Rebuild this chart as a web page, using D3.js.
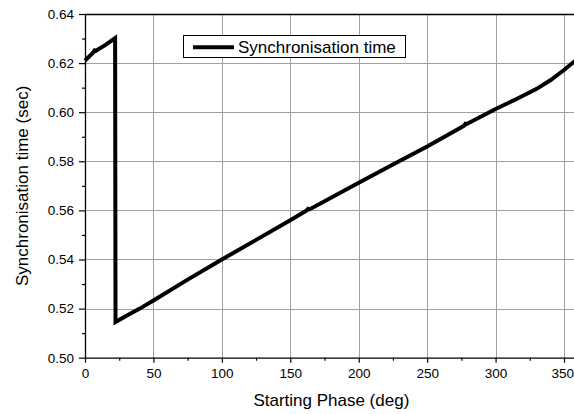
<!DOCTYPE html>
<html>
<head>
<meta charset="utf-8">
<script src="https://cdn.jsdelivr.net/npm/d3@7"></script>
<style>
  html, body { margin: 0; padding: 0; background: #fff; }
  svg { display: block; }
  text { font-family: "Liberation Sans", Arial, sans-serif; fill: #000; }
</style>
</head>
<body>
<svg id="chart" width="574" height="414"></svg>
<script>
// ---- data ----
const phase = [0, 6, 7, 8, 15, 22, 22.3, 30, 40, 50, 75, 100, 125, 150, 162, 163, 164, 200, 225, 250, 277, 278, 279, 300, 315, 330, 340, 350, 360];
const syncTime = [0.621, 0.6243, 0.6252, 0.6250, 0.6274, 0.6302, 0.5145, 0.5170, 0.5200, 0.5233, 0.5318, 0.5400, 0.5480, 0.5560, 0.5600, 0.5606, 0.5604, 0.5713, 0.5787, 0.5860, 0.5945, 0.5953, 0.5952, 0.6013, 0.6053, 0.6095, 0.6130, 0.6172, 0.6218];
const xTicks = [0, 50, 100, 150, 200, 250, 300, 350];
const xMinorTicks = [25, 75, 125, 175, 225, 275, 325];
const yTicks = [0.50, 0.52, 0.54, 0.56, 0.58, 0.60, 0.62, 0.64];
const yMinorTicks = [0.51, 0.53, 0.55, 0.57, 0.59, 0.61, 0.63];
const seriesName = "Synchronisation time";
const xTitle = "Starting Phase (deg)";
const yTitle = "Synchronisation time (sec)";

(function () {
// ---- layout ----
const pL = 85, pT = 14, pB = 357.7, pR = 577.7;
const svg = d3.select("#chart");
const x = d3.scaleLinear().domain([0, 360]).range([pL, pR]);
const y = d3.scaleLinear().domain([0.50, 0.64]).range([pB, pT]);

// grid
const grid = svg.append("g").attr("shape-rendering", "crispEdges");
grid.selectAll("line.vx").data(xTicks.filter(d => d > 0)).enter().append("line")
  .attr("x1", d => Math.round(x(d)) + 0.5).attr("x2", d => Math.round(x(d)) + 0.5)
  .attr("y1", pT).attr("y2", pB)
  .attr("stroke", "#a0a0a0").attr("stroke-width", 1);
grid.selectAll("line.hy").data(yTicks.filter(d => d > 0.50 && d < 0.64)).enter().append("line")
  .attr("y1", d => Math.round(y(d)) + 0.5).attr("y2", d => Math.round(y(d)) + 0.5)
  .attr("x1", pL).attr("x2", pR)
  .attr("stroke", "#a0a0a0").attr("stroke-width", 1);

// top border
svg.append("line")
  .attr("x1", pL).attr("x2", pR)
  .attr("y1", Math.round(y(0.64)) + 0.5).attr("y2", Math.round(y(0.64)) + 0.5)
  .attr("stroke", "#000").attr("stroke-width", 1.3);

// axes
const fmtY = d3.format(".2f");
const xAxis = svg.append("g").attr("transform", `translate(0,${pB})`)
  .call(d3.axisBottom(x).tickValues(xTicks).tickSize(5).tickSizeOuter(0).tickPadding(5).tickFormat(d3.format("d")));
svg.append("g").attr("transform", `translate(0,${pB})`)
  .call(d3.axisBottom(x).tickValues(xMinorTicks).tickSize(3).tickSizeOuter(0).tickFormat(""))
  .select(".domain").remove();
const yAxis = svg.append("g").attr("transform", `translate(${pL},0)`)
  .call(d3.axisLeft(y).tickValues(yTicks).tickSize(6).tickSizeOuter(0).tickPadding(5).tickFormat(fmtY));
svg.append("g").attr("transform", `translate(${pL},0)`)
  .call(d3.axisLeft(y).tickValues(yMinorTicks).tickSize(3).tickSizeOuter(0).tickFormat(""))
  .select(".domain").remove();

svg.selectAll(".tick text").style("font-size", "13.5px").style("font-family", "'Liberation Sans', Arial, sans-serif");
svg.selectAll(".domain").attr("stroke-width", 1.3);
svg.selectAll(".tick line").attr("stroke-width", 1.2);
xAxis.selectAll(".tick text").attr("dy", "0.71em").attr("y", 11);
// keep the last label inside the window
xAxis.selectAll(".tick").filter(d => d === 350).select("text")
  .attr("text-anchor", "end").attr("x", 9.5);

// titles
svg.append("text").attr("x", (pL + pR) / 2).attr("y", 406)
  .attr("text-anchor", "middle").style("font-size", "17px").text(xTitle);
svg.append("text").attr("transform", `translate(28,${(pT + pB) / 2}) rotate(-90)`)
  .attr("text-anchor", "middle").style("font-size", "17px").text(yTitle);

// series
const pts = phase.map((p, i) => [p, syncTime[i]]);
svg.append("path").datum(pts)
  .attr("fill", "none").attr("stroke", "#000").attr("stroke-width", 4)
  .attr("stroke-linejoin", "miter").attr("stroke-miterlimit", 10)
  .attr("d", d3.line().x(d => x(d[0])).y(d => y(d[1])));

// legend
const lg = svg.append("g");
lg.append("rect").attr("x", 183.5).attr("y", 35.5).attr("width", 222).attr("height", 22)
  .attr("fill", "#fff").attr("stroke", "#000").attr("stroke-width", 1);
lg.append("line").attr("x1", 193).attr("x2", 234).attr("y1", 47.3).attr("y2", 47.3)
  .attr("stroke", "#000").attr("stroke-width", 4);
lg.append("text").attr("x", 238).attr("y", 53.3).style("font-size", "17px").text(seriesName);
})();
</script>
</body>
</html>
